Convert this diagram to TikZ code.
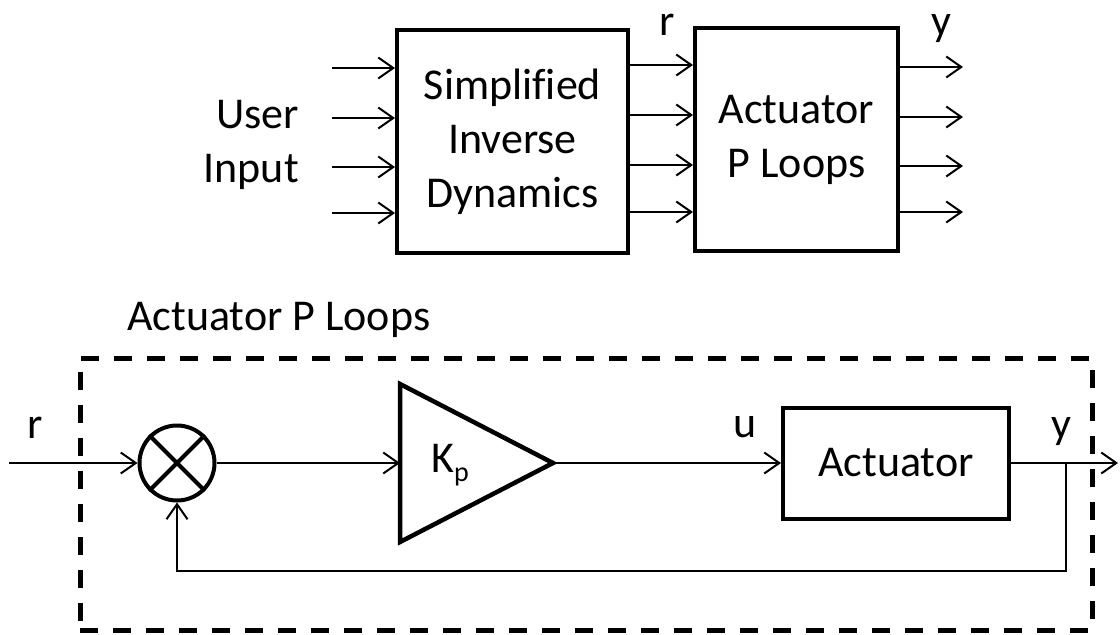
\documentclass[tikz,border=0pt]{standalone}
\usepackage{fontspec}
\setmainfont{Carlito}[Ligatures=NoCommon]
\usetikzlibrary{arrows.meta}
\begin{document}
\begin{tikzpicture}[x=1pt,y=-1pt,
  lbl/.style={font=\fontsize{44}{54}\selectfont, inner sep=0pt},
  blk/.style={draw, line width=4pt, align=center, inner sep=0pt,
              font=\fontsize{44}{54}\selectfont},
  arr/.style={line width=2pt, -{Straight Barb[length=15pt,width=21pt]}},
  loopframe/.style={draw, line width=5pt, dash pattern=on 18pt off 15pt}]
\useasboundingbox (0,0) rectangle (1120,635);

% ---------- upper chain ----------
\node[blk, minimum width=231pt, minimum height=223pt] (sid) at (512.5,141.5)
  {Simplified\\Inverse\\Dynamics};
\node[blk, minimum width=203pt, minimum height=223pt] (apl) at (796.5,139.5)
  {Actuator\\P Loops};

\node[lbl, anchor=north east, align=right] (user) at (299,100) {User\\Input};
\node[lbl, anchor=base] (rtop) at (667,35) {r};
\node[lbl, anchor=base] (ytop) at (941,35) {y};

\foreach \yy [count=\i] in {68,118,167,213} {
  \coordinate (in\i) at (332,\yy);
  \draw[arr] (in\i) -- (in\i -| sid.west);
}
\foreach \yy [count=\i] in {65,115,165,212} {
  \coordinate (m\i) at (628,\yy);
  \draw[arr] (m\i -| sid.east) -- (m\i -| apl.west);
}
\foreach \yy [count=\i] in {67,117,166,212} {
  \coordinate (o\i) at (963,\yy);
  \draw[arr] (o\i -| apl.east) -- (o\i);
}

% ---------- lower loop ----------
\node[lbl, anchor=base west] (title) at (127,330) {Actuator P Loops};
\node[loopframe, minimum width=1012pt, minimum height=272pt, inner sep=0pt]
  (frame) at (586,494) {};

\node[draw, circle, line width=4pt, minimum size=75pt, inner sep=0pt] (sum) at (177,463) {};
\draw[line width=4pt] (sum.north west) -- (sum.south east)
                      (sum.north east) -- (sum.south west);

\coordinate (ktop) at (400,384);
\coordinate (kbot) at (400,542);
\coordinate (kin)  at (400,463);
\coordinate (kout) at (553,463);
\draw[line width=4.5pt] (ktop) -- (kout) -- (kbot) -- cycle;
\node[lbl, anchor=base west] (kp) at (431,472)
  {K\raisebox{-9pt}{\fontsize{28}{28}\selectfont p}};

\node[blk, minimum width=226pt, minimum height=111pt] (act) at (896,463) {Actuator};

\coordinate (rin)  at (9,463);
\coordinate (yout) at (1118,463);
\coordinate (tap)  at (1066,463);

\draw[arr] (rin) -- (sum.west);
\draw[arr] (sum.east) -- (kin);
\draw[arr] (kout) -- (act.west);
\draw[arr] (act.east) -- (yout);
\draw[arr] (tap) -- ++(0,108) -| (sum.south);

\node[lbl, anchor=base] (rbot) at (35,438) {r};
\node[lbl, anchor=base] (ubot) at (745,437) {u};
\node[lbl, anchor=base] (ybot) at (1061,438) {y};
\end{tikzpicture}
\end{document}
